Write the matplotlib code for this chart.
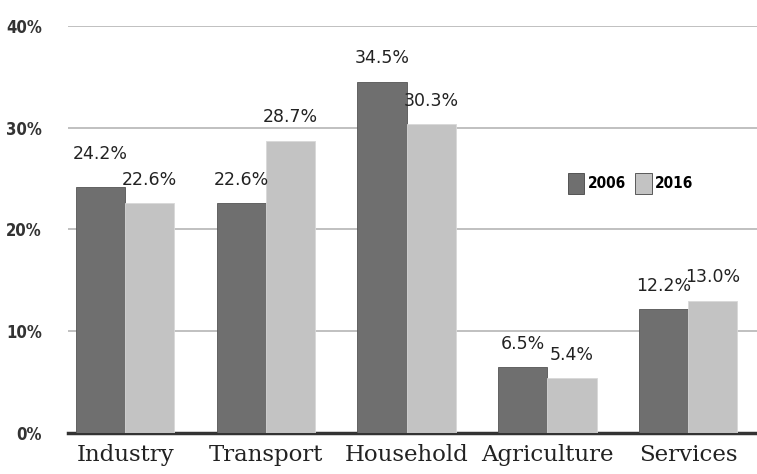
import matplotlib.pyplot as plt
import matplotlib.ticker as mtick
import numpy as np

categories = ['Industry', 'Transport', 'Household', 'Agriculture', 'Services']
share_2006 = [24.2, 22.6, 34.5, 6.5, 12.2]
share_2016 = [22.6, 28.7, 30.3, 5.4, 13.0]
years = ['2006', '2016']

dark = '#6f6f6f'
light = '#c3c3c3'

fig = plt.figure(figsize=(7.57, 4.74), dpi=100)
ax = fig.add_axes([0.09, 0.086, 0.91, 0.86])

x = np.arange(len(categories))
w = 0.35
b1 = ax.bar(x - w / 2, share_2006, w, color=dark, edgecolor='#555555', linewidth=0.6,
            label=years[0], zorder=3)
b2 = ax.bar(x + w / 2, share_2016, w, color=light, edgecolor='#d8d8d8', linewidth=0.6,
            label=years[1], zorder=3)

# value labels
for i, (r, v) in enumerate(zip(b1, share_2006)):
    off = 2.3 if i == 0 else 1.4
    ax.text(r.get_x() + r.get_width() / 2, v + off, f'{v:.1f}%', ha='center',
            va='bottom', fontsize=12.5, color='#222222', zorder=4)
for r, v in zip(b2, share_2016):
    ax.text(r.get_x() + r.get_width() / 2, v + 1.4, f'{v:.1f}%', ha='center',
            va='bottom', fontsize=12.5, color='#222222', zorder=4)

ax.set_xlim(-0.405, 4.49)
ax.set_ylim(0, 40)
ax.set_yticks([0, 10, 20, 30, 40])
ax.yaxis.set_major_formatter(mtick.StrMethodFormatter('{x:.0f}%'))
for lbl in ax.get_yticklabels():
    lbl.set_family('DejaVu Sans')
    lbl.set_fontstretch('condensed')
    lbl.set_fontweight('bold')
    lbl.set_fontsize(12)
    lbl.set_color('#333333')
ax.tick_params(axis='y', length=0, pad=19)
ax.set_xticks(x)
ax.set_xticklabels(categories, family='DejaVu Serif', fontsize=16.5, color='#222222')
ax.tick_params(axis='x', length=0, pad=8)

ax.grid(axis='y', color='#b5b5b5', linewidth=1.2, zorder=0)
for s in ['top', 'right', 'left']:
    ax.spines[s].set_visible(False)
ax.spines['bottom'].set_color('#333333')
ax.spines['bottom'].set_linewidth(2.5)

leg = ax.legend(loc='center left', bbox_to_anchor=(0.705, 0.613), ncol=2, frameon=False,
                handlelength=1.1, handleheight=1.7, handletextpad=0.2, columnspacing=0.6,
                prop={'family': 'DejaVu Sans', 'stretch': 'condensed', 'weight': 'bold',
                      'size': 11})
for h in leg.legend_handles:
    h.set_edgecolor('#444444')

plt.savefig('out.png', dpi=100)
